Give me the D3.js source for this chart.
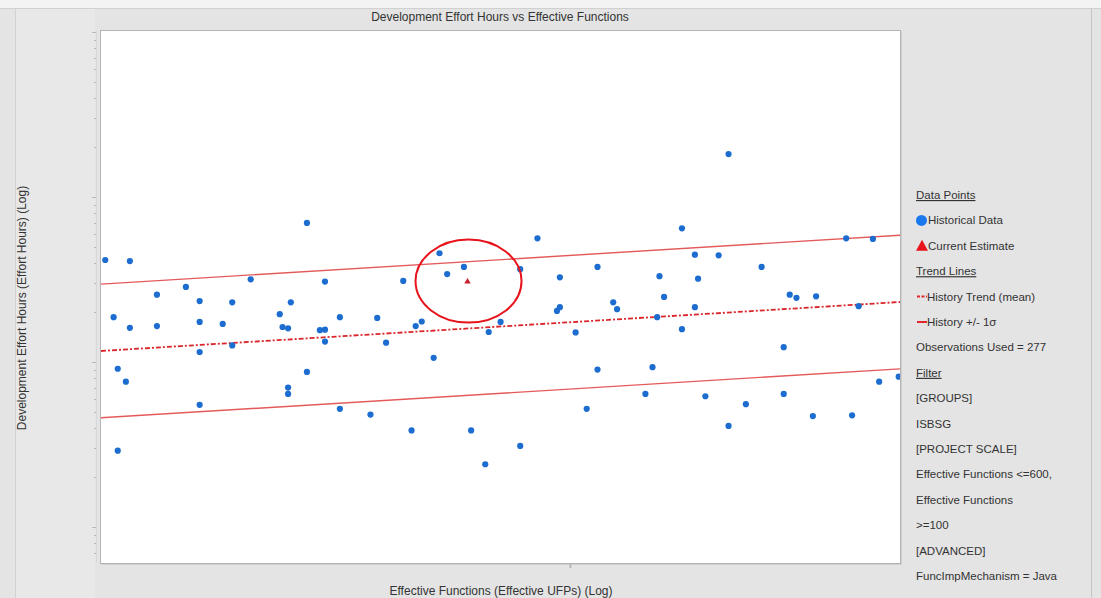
<!DOCTYPE html>
<html>
<head>
<meta charset="utf-8">
<script src="https://cdn.jsdelivr.net/npm/d3@7"></script>
<style>
  body { margin: 0; background: #e4e4e4; }
  svg { display: block; font-family: "Liberation Sans", Arial, sans-serif; }
</style>
</head>
<body>
<svg id="chart" width="1101" height="598"></svg>
<script>
// Historical projects: effective functions (UFP) and development effort (hours)
const histUFP = [
  101, 107, 142, 122, 162, 169, 114, 126, 136, 156,
  103, 152, 175, 126, 133, 107, 114, 153, 155, 167,
  169, 169, 136, 126, 104, 162, 106, 155, 155, 126,
  175, 188, 104,
  278, 221, 234, 225, 267, 320, 293, 203, 332, 335,
  293, 291, 191, 212, 209, 255, 248, 304, 195, 218,
  320, 312, 207, 238, 267, 246,
  435, 390, 573, 610, 402, 425, 470, 370, 405, 374,
  502, 510, 534, 402, 590, 368, 390, 495, 364, 648,
  619, 358, 412, 495, 453, 530, 581, 435
];
const histHours = [
  4150, 4090, 3170, 2850, 6960, 3070, 2560, 2340, 2300, 2300,
  1870, 1950, 1870, 1750, 1700, 1610, 1650, 1630, 1600, 1560,
  1570, 1330, 1260, 1150, 910, 870, 760, 700, 640, 550,
  520, 480, 290,
  5620, 4560, 3770, 3410, 3650, 3770, 3260, 3100, 2300, 2090,
  2150, 2040, 1850, 1760, 1650, 1750, 1520, 1510, 1310, 1060,
  900, 520, 385, 385, 310, 240,
  18200, 6460, 5620, 5570, 4470, 4430, 3770, 3310, 3200, 2480,
  2560, 2450, 2500, 2150, 2180, 1870, 1580, 1230, 930, 815,
  760, 640, 620, 640, 555, 470, 475, 410
];

// Current estimate
const estimateUFP = [236];
const estimateHours = [3070];

// Log-log regression of history: log10(hours) = a + b*log10(ufp), +/- one sigma
const trendIntercept = 2.3363;
const trendSlope = 0.3652;
const trendSigma = 0.405;

// Axis extents
const xDomain = [100, 650];
const yDomain = [60.5, 101400];
const xTickValues = [300];

const titleText = "Development Effort Hours vs Effective Functions";
const xLabelText = "Effective Functions (Effective UFPs) (Log)";
const yLabelText = "Development Effort Hours (Effort Hours) (Log)";

// Legend and filter panel
const legendRows = [
  { text: "Data Points", kind: "header" },
  { text: "Historical Data", kind: "circle" },
  { text: "Current Estimate", kind: "triangle" },
  { text: "Trend Lines", kind: "header" },
  { text: "History Trend (mean)", kind: "dash" },
  { text: "History +/- 1\u03C3", kind: "solid" },
  { text: "Observations Used = 277", kind: "text" },
  { text: "Filter", kind: "header" },
  { text: "[GROUPS]", kind: "text" },
  { text: "ISBSG", kind: "text" },
  { text: "[PROJECT SCALE]", kind: "text" },
  { text: "Effective Functions <=600,", kind: "text" },
  { text: "Effective Functions", kind: "text" },
  { text: ">=100", kind: "text" },
  { text: "[ADVANCED]", kind: "text" },
  { text: "FuncImpMechanism = Java", kind: "text" }
];

const svg = d3.select("#chart");
const W = 1101, H = 598;
const plot = { left: 101, top: 31, right: 900, bottom: 563 };

const BLUE = "#1c6dcf";
const RED = "#e3262b";
const TEXT = "#333333";

// Window background
svg.append("rect").attr("x", 0).attr("y", 0).attr("width", W).attr("height", H).attr("fill", "#f3f3f3");
svg.append("rect").attr("x", 0).attr("y", 8).attr("width", W).attr("height", H - 8).attr("fill", "#e4e4e4");
svg.append("rect").attr("x", 15).attr("y", 8).attr("width", 80).attr("height", H - 8).attr("fill", "#e8e8e8");
svg.append("line").attr("x1", 15.5).attr("x2", 15.5).attr("y1", 8).attr("y2", H).attr("stroke", "#d2d2d2");
svg.append("line").attr("x1", 1091.5).attr("x2", 1091.5).attr("y1", 8).attr("y2", H).attr("stroke", "#c4c4c4");
svg.append("line").attr("x1", 0).attr("x2", W).attr("y1", 8.5).attr("y2", 8.5).attr("stroke", "#d0d0d0");

const x = d3.scaleLog().domain(xDomain).range([plot.left, plot.right]);
const y = d3.scaleLog().domain(yDomain).range([plot.bottom, plot.top]);

// Plot area
svg.append("rect")
  .attr("x", plot.left - 0.5).attr("y", plot.top - 0.5)
  .attr("width", plot.right - plot.left + 1).attr("height", plot.bottom - plot.top + 1)
  .attr("fill", "#ffffff").attr("stroke", "#b4b4b4");
svg.append("line").attr("x1", plot.right + 1.5).attr("x2", plot.right + 1.5)
  .attr("y1", plot.top).attr("y2", plot.bottom + 2).attr("stroke", "#d0d0d0");
svg.append("line").attr("x1", plot.left).attr("x2", plot.right + 2)
  .attr("y1", plot.bottom + 1.5).attr("y2", plot.bottom + 1.5).attr("stroke", "#d0d0d0");

// Y axis: unlabeled log ticks
const yAxisG = svg.append("g").attr("transform", `translate(${plot.left - 4},0)`);
yAxisG.selectAll("line").data(y.ticks()).join("line")
  .attr("x1", d => Math.abs(Math.log10(d) - Math.round(Math.log10(d))) < 1e-9 ? -5 : -3)
  .attr("x2", 0)
  .attr("y1", d => Math.round(y(d)) + 0.5).attr("y2", d => Math.round(y(d)) + 0.5)
  .attr("stroke", "#b8b8b8");
yAxisG.append("line").attr("x1", -0.5).attr("x2", -0.5)
  .attr("y1", plot.top).attr("y2", plot.bottom).attr("stroke", "#d8d8d8");

// X axis: unlabeled tick
const xAxis = d3.axisBottom(x).tickValues(xTickValues).tickFormat("").tickSize(4).tickSizeOuter(0);
const xAxisG = svg.append("g").attr("transform", `translate(0,${plot.bottom + 1})`).call(xAxis);
xAxisG.select(".domain").remove();
xAxisG.selectAll(".tick line").attr("stroke", "#b8b8b8").attr("stroke-width", 2);

// Clip for marks
svg.append("clipPath").attr("id", "plotClip")
  .append("rect").attr("x", plot.left).attr("y", plot.top)
  .attr("width", plot.right - plot.left).attr("height", plot.bottom - plot.top);
const marks = svg.append("g").attr("clip-path", "url(#plotClip)");

// Trend lines
const trendAt = (u, k) => Math.pow(10, trendIntercept + trendSlope * Math.log10(u) + k * trendSigma);
const line = d3.line().x(d => x(d[0])).y(d => y(d[1]));
[1, -1].forEach(k => {
  marks.append("path")
    .datum(xDomain.map(u => [u, trendAt(u, k)]))
    .attr("d", line).attr("fill", "none")
    .attr("stroke", "#e45a5a").attr("stroke-width", 1.4);
});
marks.append("path")
  .datum(xDomain.map(u => [u, trendAt(u, 0)]))
  .attr("d", line).attr("fill", "none")
  .attr("stroke", "#d9262b").attr("stroke-width", 1.8)
  .attr("stroke-dasharray", "5,2,2,2");

// Historical points
marks.selectAll("circle.hist")
  .data(histUFP.map((u, i) => [u, histHours[i]]))
  .join("circle").attr("class", "hist")
  .attr("cx", d => x(d[0])).attr("cy", d => y(d[1]))
  .attr("r", 3.1).attr("fill", BLUE);

// Current estimate
const tri = d3.symbol().type(d3.symbolTriangle).size(18);
marks.selectAll("path.est")
  .data(estimateUFP.map((u, i) => [u, estimateHours[i]]))
  .join("path").attr("class", "est")
  .attr("d", tri)
  .attr("transform", d => `translate(${x(d[0])},${y(d[1])})`)
  .attr("fill", "#c8202a");

// Highlight ring around the estimate
svg.append("ellipse")
  .attr("cx", x(estimateUFP[0]) + 1).attr("cy", y(estimateHours[0]) - 0.5)
  .attr("rx", 53).attr("ry", 41.5)
  .attr("fill", "none").attr("stroke", "#e8141c").attr("stroke-width", 2);

// Titles
svg.append("text").attr("x", 500).attr("y", 21).attr("text-anchor", "middle")
  .attr("font-size", 12).attr("fill", TEXT).text(titleText);
svg.append("text").attr("x", 501).attr("y", 595).attr("text-anchor", "middle")
  .attr("font-size", 12).attr("fill", TEXT).text(xLabelText);
svg.append("text").attr("transform", "translate(26,308) rotate(-90)").attr("text-anchor", "middle")
  .attr("font-size", 12).attr("fill", TEXT).text(yLabelText);

// Legend
const lg = svg.append("g").attr("transform", "translate(916,0)");
const rowY = i => 199 + i * 25.4;
legendRows.forEach((r, i) => {
  const yy = rowY(i);
  let tx = 0;
  if (r.kind === "circle") {
    lg.append("circle").attr("cx", 5.5).attr("cy", yy - 4).attr("r", 5.5).attr("fill", "#1a78ee");
    tx = 12;
  } else if (r.kind === "triangle") {
    lg.append("path").attr("d", "M0,1 L6,-10 L12,1 Z").attr("transform", `translate(0,${yy})`).attr("fill", "#e8141c");
    tx = 12;
  } else if (r.kind === "dash") {
    lg.append("line").attr("x1", 1).attr("x2", 11).attr("y1", yy - 4).attr("y2", yy - 4)
      .attr("stroke", "#e3262b").attr("stroke-width", 2).attr("stroke-dasharray", "3,1.5");
    tx = 11;
  } else if (r.kind === "solid") {
    lg.append("line").attr("x1", 1).attr("x2", 11).attr("y1", yy - 4).attr("y2", yy - 4)
      .attr("stroke", "#e3262b").attr("stroke-width", 2);
    tx = 11;
  }
  const t = lg.append("text").attr("x", tx).attr("y", yy)
    .attr("font-size", 11.5).attr("fill", TEXT).text(r.text);
  if (r.kind === "header") t.attr("text-decoration", "underline");
});
</script>
</body>
</html>
